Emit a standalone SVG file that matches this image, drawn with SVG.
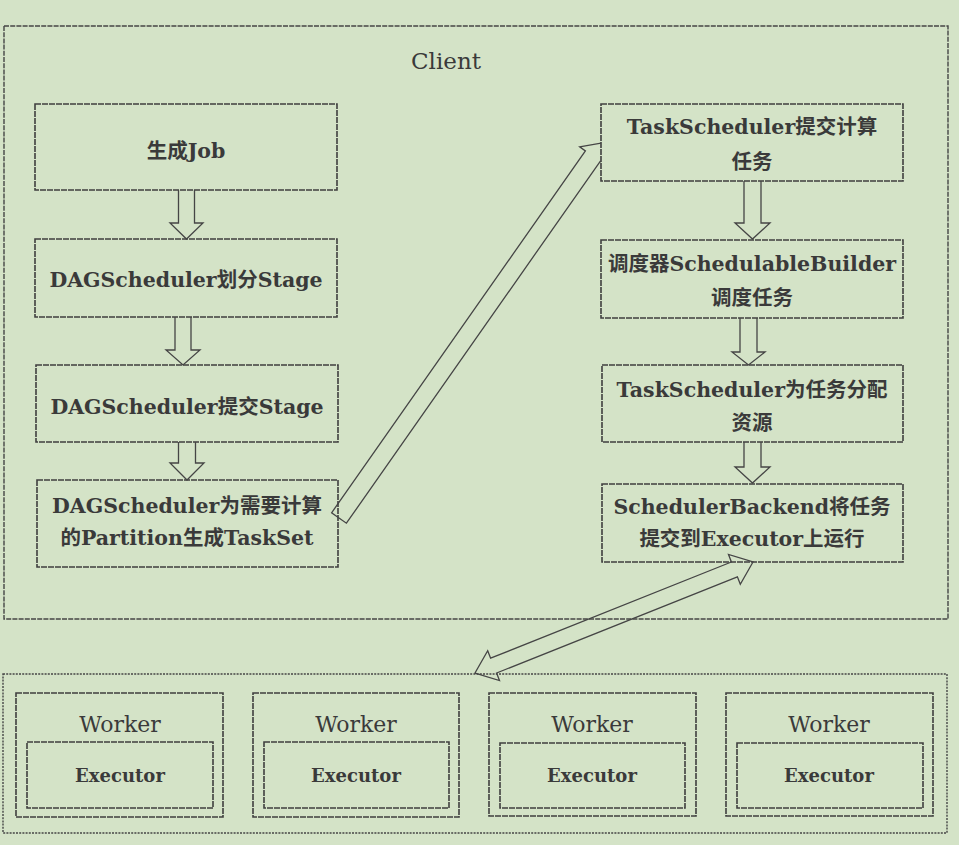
<svg xmlns="http://www.w3.org/2000/svg" width="959" height="845" viewBox="0 0 959 845">
<defs>
<style>
.bg{fill:#d4e3c7}
.cont{fill:none;stroke:#454545;stroke-width:1.4;stroke-dasharray:5 1.2}
.cont2{fill:none;stroke:#454545;stroke-width:1.4;stroke-dasharray:2 1.2}
.box{fill:none;stroke:#3f3f3f;stroke-width:1.6;stroke-dasharray:6 1}
.arr{fill:none;stroke:#454545;stroke-width:1.3}
.t{font-family:"DejaVu Serif","Noto Sans CJK SC",serif;font-size:20.5px;font-weight:bold;fill:#3a3a3a;text-anchor:middle}
.tl{font-family:"DejaVu Serif","Noto Sans CJK SC",serif;font-size:23px;fill:#3a3a3a;text-anchor:middle}
.tw{font-family:"DejaVu Serif",serif;font-size:22px;fill:#3a3a3a;text-anchor:middle}
.te{font-family:"DejaVu Serif",serif;font-size:18px;font-weight:bold;fill:#3a3a3a;text-anchor:middle}
</style>
<clipPath id="clipA"><rect x="0" y="0" width="601" height="845"/></clipPath>
</defs>
<rect class="bg" x="0" y="0" width="959" height="845"/>

<g id="client">
<rect class="cont" x="4" y="26" width="944" height="593"/>
<text class="tl" x="446" y="69">Client</text>
</g>

<g id="cluster">
<rect class="cont2" x="3" y="674" width="944" height="159"/>
</g>

<g id="n1"><rect class="box" x="35" y="104" width="302" height="86"/><text class="t" x="186" y="158">生成Job</text></g>
<g id="n2"><rect class="box" x="35" y="239" width="302" height="78"/><text class="t" x="186" y="287">DAGScheduler划分Stage</text></g>
<g id="n3"><rect class="box" x="36" y="365" width="302" height="77"/><text class="t" x="187" y="414">DAGScheduler提交Stage</text></g>
<g id="n4"><rect class="box" x="37" y="480" width="301" height="87"/><text class="t" x="187" y="513">DAGScheduler为需要计算</text><text class="t" x="187" y="545">的Partition生成TaskSet</text></g>

<g id="r1"><rect class="box" x="601" y="104" width="302" height="77"/><text class="t" x="752" y="134">TaskScheduler提交计算</text><text class="t" x="752" y="169">任务</text></g>
<g id="r2"><rect class="box" x="601" y="240" width="302" height="78"/><text class="t" x="752" y="271">调度器SchedulableBuilder</text><text class="t" x="752" y="305">调度任务</text></g>
<g id="r3"><rect class="box" x="602" y="365" width="301" height="77"/><text class="t" x="752" y="397">TaskScheduler为任务分配</text><text class="t" x="752" y="430">资源</text></g>
<g id="r4"><rect class="box" x="602" y="484" width="301" height="78"/><text class="t" x="752" y="514">SchedulerBackend将任务</text><text class="t" x="752" y="546">提交到Executor上运行</text></g>

<g id="w1"><rect class="box" x="16" y="693" width="207" height="124"/><text class="tw" x="120" y="732">Worker</text><rect class="box" x="27" y="742" width="186" height="66"/><text class="te" x="120" y="782">Executor</text></g>
<g id="w2"><rect class="box" x="253" y="693" width="206" height="124"/><text class="tw" x="356" y="732">Worker</text><rect class="box" x="264" y="742" width="185" height="66"/><text class="te" x="356" y="782">Executor</text></g>
<g id="w3"><rect class="box" x="489" y="693" width="207" height="123"/><text class="tw" x="592" y="732">Worker</text><rect class="box" x="500" y="743" width="185" height="65"/><text class="te" x="592" y="782">Executor</text></g>
<g id="w4"><rect class="box" x="726" y="693" width="207" height="123"/><text class="tw" x="829" y="732">Worker</text><rect class="box" x="737" y="743" width="186" height="65"/><text class="te" x="829" y="782">Executor</text></g>

<g id="connectors">
<path class="arr" d="M178.5,190 V223 H170 L186.5,239 L203,223 H194.5 V190"/>
<path class="arr" d="M175,317 V350 H166 L183,365 L200,350 H191 V317"/>
<path class="arr" d="M178.5,442 V463 H170 L187,480 L204,463 H195.5 V442"/>
<path class="arr" d="M744,181 V223 H735 L752.5,239 L770,223 H761 V181"/>
<path class="arr" d="M740,318 V352 H732 L748.5,365 L765,352 H757 V318"/>
<path class="arr" d="M744,442 V467 H735 L752.5,483 L770,467 H761 V442"/>
<polygon class="arr" clip-path="url(#clipA)" points="331.6,512.8 585.4,150.9 579.7,146.9 602,143 605.9,165.3 600.2,161.3 346.4,523.2"/>
<polygon class="arr" points="475,673 487.7,650.7 490.6,658.2 731.4,562 728.5,554.5 753,562 740.3,584.3 737.4,576.8 496.6,673 499.5,680.5"/>
</g>
</svg>
